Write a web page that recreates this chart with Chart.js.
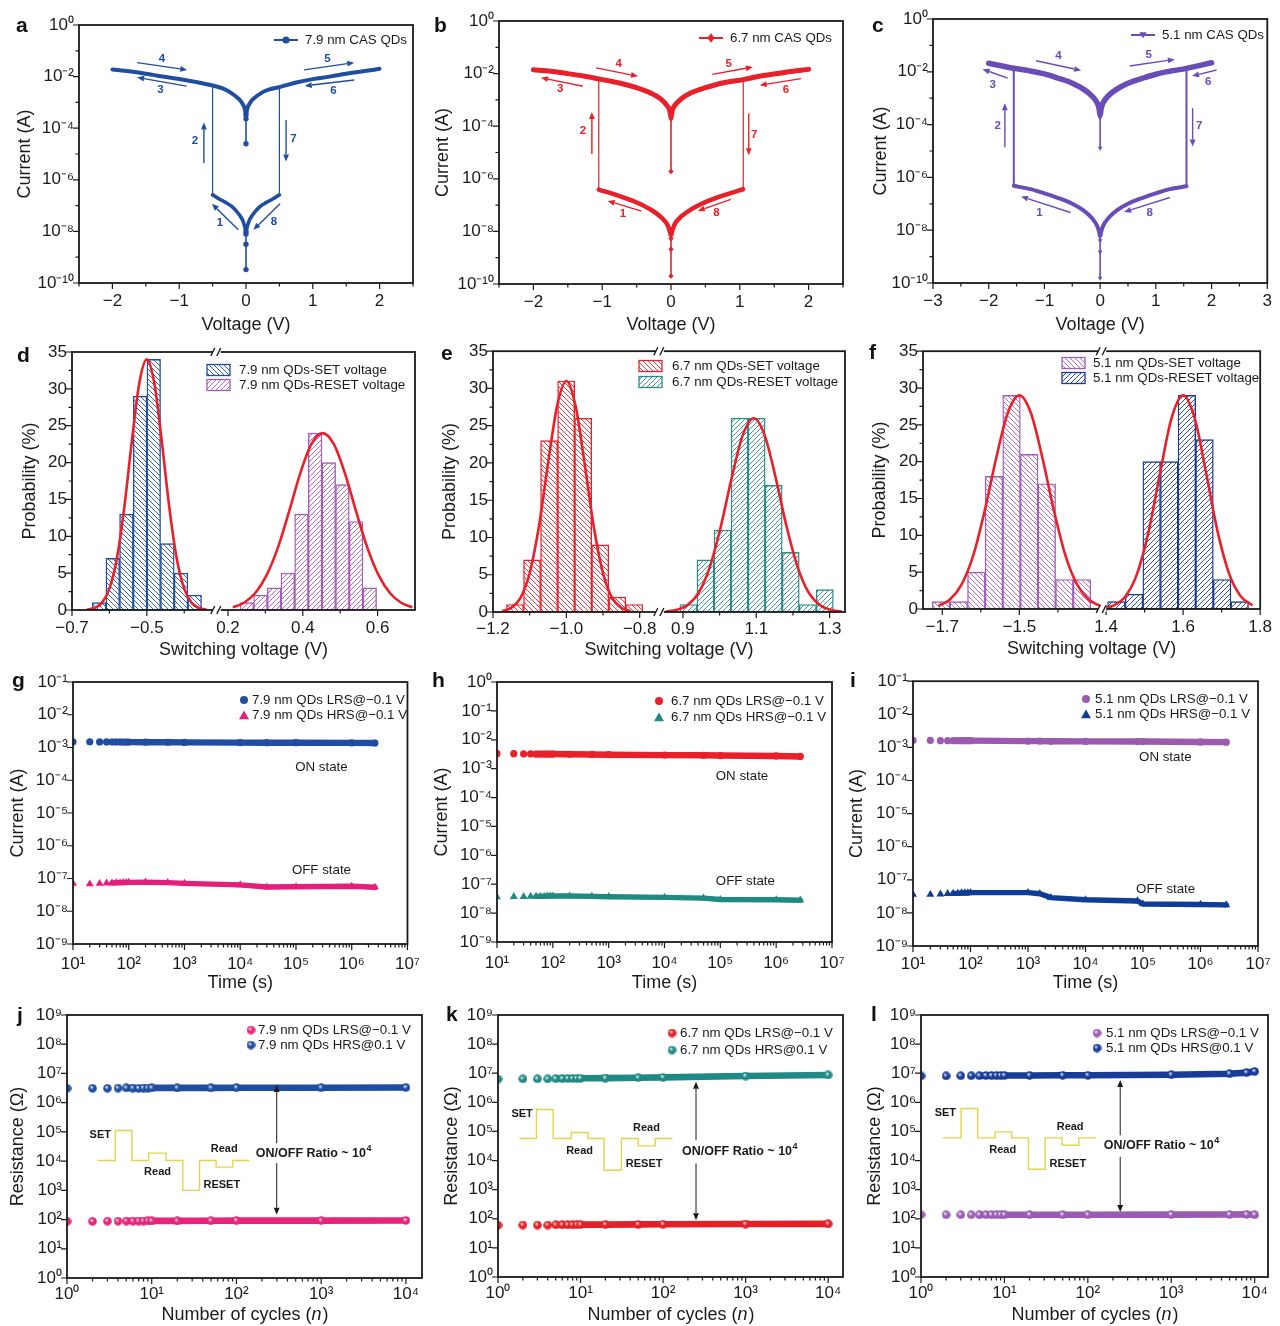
<!DOCTYPE html>
<html>
<head>
<meta charset="utf-8">
<title>CAS QDs resistive switching</title>
<script src="https://cdn.jsdelivr.net/npm/chart.js@4.4.1/dist/chart.umd.min.js"></script>
<style>
  body { margin: 0; width: 1280px; height: 1326px; background: #fff; position: relative; overflow: hidden; }
  canvas { position: absolute; }
  .tag { position: absolute; z-index: 2; font: bold 21px "Liberation Sans", Arial, sans-serif; line-height: 21px; color: #111; }
</style>
</head>
<body>
<div class="tag" style="left:16px;top:14px">a</div>
<div class="tag" style="left:434px;top:14px">b</div>
<div class="tag" style="left:872px;top:14px">c</div>
<div class="tag" style="left:17px;top:344px">d</div>
<div class="tag" style="left:441px;top:342px">e</div>
<div class="tag" style="left:869px;top:341px">f</div>
<div class="tag" style="left:12px;top:669px">g</div>
<div class="tag" style="left:432px;top:669px">h</div>
<div class="tag" style="left:850px;top:669px">i</div>
<div class="tag" style="left:17px;top:1004px">j</div>
<div class="tag" style="left:446px;top:1003px">k</div>
<div class="tag" style="left:871px;top:1003px">l</div>
<script>
// ---------- a-c : I-V sweeps (current in A) ----------
const aLrsV = [-2, -1.75, -1.5, -1.25, -1, -0.75, -0.5, -0.35, -0.25, -0.1, -0.05, -0.02, 0, 0.02, 0.05, 0.1, 0.25, 0.35, 0.5, 0.75, 1, 1.25, 1.5, 1.75, 2];
const aLrsI = [1.9e-2, 1.6e-2, 1.3e-2, 1.0e-2, 8.1e-3, 6.2e-3, 4.5e-3, 3.5e-3, 2.6e-3, 1.3e-3, 8.7e-4, 5.9e-4, 3.3e-4, 5.9e-4, 8.7e-4, 1.3e-3, 2.5e-3, 3.2e-3, 3.9e-3, 5.9e-3, 8.0e-3, 1.0e-2, 1.3e-2, 1.6e-2, 2.0e-2];
const aHrsV = [-0.5, -0.4, -0.3, -0.2, -0.1, -0.05, -0.02, 0, 0.02, 0.05, 0.1, 0.2, 0.3, 0.4, 0.5];
const aHrsI = [2.6e-7, 1.8e-7, 1.3e-7, 8.7e-8, 4.4e-8, 2.7e-8, 1.6e-8, 1.0e-8, 1.6e-8, 2.7e-8, 4.4e-8, 8.7e-8, 1.3e-7, 1.8e-7, 2.6e-7];
const aZeroLrs = [3.3e-4, 2.3e-4, 2.5e-5];
const aZeroHrs = [1.0e-8, 8.0e-9, 3.2e-9, 3.3e-10];
const aJumpV = [-0.5, 0.5];

const bLrsV = [-2, -1.75, -1.5, -1.25, -1.05, -0.75, -0.5, -0.3, -0.15, -0.05, -0.02, 0, 0.02, 0.05, 0.15, 0.3, 0.5, 0.75, 1.05, 1.25, 1.5, 1.75, 2];
const bLrsI = [1.4e-2, 1.23e-2, 1.0e-2, 7.9e-3, 6.3e-3, 4.4e-3, 2.9e-3, 1.85e-3, 1.1e-3, 5.7e-4, 4.1e-4, 2.2e-4, 4.1e-4, 5.9e-4, 1.1e-3, 1.9e-3, 2.9e-3, 4.4e-3, 5.9e-3, 7.6e-3, 9.6e-3, 1.2e-2, 1.45e-2];
const bHrsV = [-1.05, -0.75, -0.5, -0.3, -0.15, -0.05, -0.02, 0, 0.02, 0.05, 0.15, 0.3, 0.5, 0.75, 1.05];
const bHrsI = [3.9e-7, 2.2e-7, 1.26e-7, 6.9e-8, 3.6e-8, 1.74e-8, 1.07e-8, 7.2e-9, 1.07e-8, 1.8e-8, 3.7e-8, 7.1e-8, 1.3e-7, 2.3e-7, 4.0e-7];
const bZeroLrs = [2.2e-4, 1.9e-4, 1.9e-6];
const bZeroHrs = [7.2e-9, 5.4e-9, 2.1e-9, 2.0e-10];
const bJumpV = [-1.05, 1.05];

const cLrsV = [-2, -1.55, -1.25, -1, -0.75, -0.5, -0.3, -0.15, -0.05, -0.02, 0, 0.02, 0.05, 0.15, 0.3, 0.5, 0.75, 1, 1.25, 1.55, 2];
const cLrsI = [2.1e-2, 1.36e-2, 1.07e-2, 8.3e-3, 5.7e-3, 3.7e-3, 2.2e-3, 1.23e-3, 6.5e-4, 4.2e-4, 2.3e-4, 4.2e-4, 6.5e-4, 1.25e-3, 2.2e-3, 3.7e-3, 5.6e-3, 8.1e-3, 1.05e-2, 1.35e-2, 2.2e-2];
const cHrsV = [-1.55, -1.25, -1, -0.75, -0.5, -0.3, -0.15, -0.05, -0.02, 0, 0.02, 0.05, 0.15, 0.3, 0.5, 0.75, 1, 1.25, 1.55];
const cHrsI = [4.8e-7, 3.6e-7, 2.5e-7, 1.65e-7, 1.0e-7, 5.6e-8, 2.9e-8, 1.4e-8, 9e-9, 5.9e-9, 9e-9, 1.4e-8, 2.9e-8, 5.6e-8, 1.0e-7, 1.65e-7, 2.5e-7, 3.6e-7, 4.6e-7];
const cZeroLrs = [2.3e-4, 1.8e-4, 1.3e-5];
const cZeroHrs = [5.9e-9, 4.0e-9, 1.5e-9, 1.55e-10];
const cJumpV = [-1.55, 1.55];

// sweep arrows: [label, V1, log10 I1, V2, log10 I2, labelV, label log10 I]
const aArrows = [['4', -1.63, -1.46, -0.88, -1.74, -1.26, -1.32], ['3', -0.89, -2.37, -1.63, -2.03, -1.28, -2.52],
  ['5', 0.87, -1.74, 1.62, -1.46, 1.22, -1.32], ['6', 1.62, -2.13, 0.88, -2.36, 1.31, -2.54],
  ['2', -0.63, -5.35, -0.63, -3.78, -0.765, -4.48], ['7', 0.6, -3.68, 0.6, -5.29, 0.71, -4.43],
  ['1', -0.115, -7.94, -0.51, -6.93, -0.39, -7.65], ['8', 0.51, -6.93, 0.11, -7.94, 0.42, -7.61]];
const bArrows = [['4', -1.09, -1.78, -0.48, -2.10, -0.76, -1.62], ['3', -1.28, -2.48, -1.89, -2.16, -1.61, -2.57],
  ['5', 0.60, -2.03, 1.19, -1.75, 0.84, -1.62], ['6', 1.89, -2.19, 1.29, -2.44, 1.67, -2.61],
  ['2', -1.15, -5.06, -1.15, -3.46, -1.28, -4.18], ['7', 1.13, -3.52, 1.13, -5.10, 1.21, -4.34],
  ['1', -0.43, -7.23, -0.92, -6.84, -0.70, -7.35], ['8', 0.87, -6.78, 0.39, -7.22, 0.66, -7.29]];
const cArrows = [['4', -1.15, -1.58, -0.34, -1.95, -0.75, -1.40], ['3', -1.66, -2.24, -2.11, -1.90, -1.93, -2.50],
  ['5', 0.53, -1.78, 1.34, -1.53, 0.87, -1.34], ['6', 2.09, -1.93, 1.65, -2.16, 1.94, -2.37],
  ['2', -1.71, -4.86, -1.71, -3.19, -1.84, -4.04], ['7', 1.66, -3.38, 1.66, -4.83, 1.78, -4.04],
  ['1', -0.53, -7.33, -1.42, -6.72, -1.09, -7.35], ['8', 1.25, -6.76, 0.43, -7.31, 0.89, -7.35]];

// ---------- d-f : switching voltage histograms (probability in %) ----------
const dSetX = [-0.6275, -0.591, -0.5545, -0.518, -0.4815, -0.445, -0.4085, -0.372];
const dSetP = [1, 7, 13, 29, 34, 9, 5, 2];
const dResetX = [0.2505, 0.287, 0.3235, 0.36, 0.3965, 0.433, 0.4695, 0.506, 0.5425, 0.579];
const dResetP = [1, 2, 3, 5, 13, 24, 20, 17, 12, 3];
const dSetFitX = [-0.66, -0.64, -0.62, -0.60, -0.58, -0.56, -0.54, -0.52, -0.50, -0.48, -0.46, -0.44, -0.42, -0.40, -0.38, -0.36, -0.34];
const dSetFitY = [0.06, 0.27, 0.97, 2.9, 7.0, 14.0, 22.9, 30.8, 34, 30.8, 22.9, 14.0, 7.0, 2.9, 0.97, 0.27, 0.06];
const dResetFitX = [0.213, 0.243, 0.273, 0.303, 0.333, 0.363, 0.393, 0.423, 0.453, 0.483, 0.513, 0.543, 0.573, 0.603, 0.633, 0.663, 0.693];
const dResetFitY = [0.37, 0.98, 2.3, 4.7, 8.4, 13.3, 18.5, 22.5, 24, 22.5, 18.5, 13.3, 8.4, 4.7, 2.3, 0.98, 0.37];

const eSetX = [-1.14, -1.0935, -1.047, -1.0005, -0.954, -0.9075, -0.861, -0.8145];
const eSetP = [1, 7, 23, 31, 26, 9, 2, 1];
const eResetX = [0.915, 0.9615, 1.008, 1.0545, 1.101, 1.1475, 1.194, 1.2405, 1.287];
const eResetP = [1, 7, 11, 26, 26, 17, 8, 1, 3];
const eSetFitX = [-1.175, -1.15, -1.125, -1.1, -1.075, -1.05, -1.025, -1.0, -0.975, -0.95, -0.925, -0.9, -0.875, -0.85, -0.825];
const eSetFitY = [0.13, 0.57, 1.9, 5.2, 11.4, 19.9, 27.7, 31, 27.7, 19.9, 11.4, 5.2, 1.9, 0.57, 0.13];
const eResetFitX = [0.853, 0.883, 0.913, 0.943, 0.973, 1.003, 1.033, 1.063, 1.093, 1.123, 1.153, 1.183, 1.213, 1.243, 1.273, 1.303, 1.333];
const eResetFitY = [0.07, 0.29, 0.95, 2.6, 6.0, 11.4, 18.0, 23.7, 26, 23.7, 18.0, 11.4, 6.0, 2.6, 0.95, 0.29, 0.07];

const fSetX = [-1.703, -1.6573, -1.6116, -1.5659, -1.5202, -1.4745, -1.4288, -1.3831, -1.3374];
const fSetP = [1, 1, 5, 18, 29, 21, 17, 4, 4];
const fResetX = [1.427, 1.4727, 1.5184, 1.5641, 1.6098, 1.6555, 1.7012, 1.7469];
const fResetP = [1, 2, 20, 20, 29, 23, 4, 1];
const fSetFitX = [-1.71, -1.68, -1.65, -1.62, -1.59, -1.56, -1.53, -1.50, -1.47, -1.44, -1.41, -1.38, -1.35, -1.32, -1.29];
const fSetFitY = [0.41, 1.28, 3.3, 7.2, 13.3, 20.5, 26.6, 29, 26.6, 20.5, 13.3, 7.2, 3.3, 1.28, 0.41];
const fResetFitX = [1.39, 1.42, 1.45, 1.48, 1.51, 1.54, 1.57, 1.60, 1.63, 1.66, 1.69, 1.72, 1.75, 1.78];
const fResetFitY = [0.11, 0.49, 1.7, 4.7, 10.4, 18.4, 25.9, 29, 25.9, 18.4, 10.4, 4.7, 1.7, 0.49];

// ---------- g-i : retention (current in A vs time in s) ----------
const gT = [10, 20, 30, 40, 50, 60, 70, 80, 90, 100, 200, 500, 1e3, 1e4, 3e4, 1e5, 1e6, 2.6e6];
const gLrs = [1.5e-3, 1.5e-3, 1.48e-3, 1.48e-3, 1.47e-3, 1.47e-3, 1.47e-3, 1.46e-3, 1.46e-3, 1.46e-3, 1.45e-3, 1.44e-3, 1.43e-3, 1.41e-3, 1.4e-3, 1.4e-3, 1.38e-3, 1.37e-3];
const gHrs = [7.1e-8, 6.8e-8, 7.0e-8, 7.2e-8, 7.3e-8, 7.4e-8, 7.4e-8, 7.5e-8, 7.5e-8, 7.6e-8, 7.7e-8, 7.5e-8, 7.1e-8, 6.4e-8, 5.5e-8, 5.6e-8, 5.8e-8, 5.4e-8];
const hT = [10, 20, 30, 40, 50, 60, 70, 80, 90, 100, 200, 500, 1e3, 1e4, 5e4, 1e5, 1e6, 2.7e6];
const hLrs = [3.3e-3, 3.3e-3, 3.25e-3, 3.25e-3, 3.2e-3, 3.2e-3, 3.2e-3, 3.2e-3, 3.2e-3, 3.2e-3, 3.15e-3, 3.1e-3, 3.05e-3, 2.95e-3, 2.9e-3, 2.85e-3, 2.75e-3, 2.65e-3];
const hHrs = [3.6e-8, 3.7e-8, 3.7e-8, 3.8e-8, 3.8e-8, 3.8e-8, 3.8e-8, 3.9e-8, 3.9e-8, 3.9e-8, 3.9e-8, 3.8e-8, 3.7e-8, 3.5e-8, 3.3e-8, 2.95e-8, 2.9e-8, 2.8e-8];
const iT = [10, 20, 30, 40, 50, 60, 70, 80, 90, 100, 1e3, 1.6e3, 2.5e3, 1e4, 8e4, 1e5, 1e6, 2.8e6];
const iLrs = [1.62e-3, 1.62e-3, 1.6e-3, 1.6e-3, 1.6e-3, 1.6e-3, 1.6e-3, 1.6e-3, 1.6e-3, 1.6e-3, 1.55e-3, 1.55e-3, 1.53e-3, 1.52e-3, 1.5e-3, 1.5e-3, 1.46e-3, 1.44e-3];
const iHrs = [3.6e-8, 3.6e-8, 3.7e-8, 3.8e-8, 3.9e-8, 3.9e-8, 4.0e-8, 4.0e-8, 4.0e-8, 4.1e-8, 4.1e-8, 3.8e-8, 2.9e-8, 2.5e-8, 2.3e-8, 1.85e-8, 1.8e-8, 1.75e-8];

// ---------- j-l : endurance (resistance in ohm vs cycle number) ----------
const jN = [1, 2, 3, 4, 5, 6, 7, 8, 9, 10, 20, 50, 100, 1000, 10000];
const jLrs = [87, 87, 88, 88, 89, 89, 89, 89, 90, 90, 90, 91, 92, 92, 93];
const jHrs = [3.1e6, 3.1e6, 3.1e6, 3.15e6, 3.2e6, 3.15e6, 3.1e6, 3.15e6, 3.15e6, 3.2e6, 3.2e6, 3.2e6, 3.25e6, 3.25e6, 3.3e6];
const kN = [1, 2, 3, 4, 5, 6, 7, 8, 9, 10, 20, 50, 100, 1000, 10000];
const kLrs = [60, 61, 61, 61, 62, 62, 62, 62, 63, 63, 63, 64, 65, 66, 67];
const kHrs = [6.3e6, 6.4e6, 6.4e6, 6.4e6, 6.5e6, 6.5e6, 6.6e6, 6.6e6, 6.6e6, 6.7e6, 6.8e6, 7.0e6, 7.2e6, 8.0e6, 8.7e6];
const lN = [1, 2, 3, 4, 5, 6, 7, 8, 9, 10, 20, 50, 100, 1000, 5000, 8000, 10000];
const lLrs = [138, 138, 138, 138, 138, 138, 138, 138, 138, 138, 138, 138, 138, 139, 140, 142, 138];
const lHrs = [8.1e6, 8.1e6, 8.2e6, 8.2e6, 8.2e6, 8.3e6, 8.3e6, 8.3e6, 8.3e6, 8.4e6, 8.4e6, 8.5e6, 8.5e6, 8.9e6, 9.6e6, 1.05e7, 1.15e7];
// pulse sketch inset, in log10 units of the axes: start of each level and its level
const jWaveX = [0.361, 0.570, 0.766, 0.963, 1.167, 1.367, 1.564, 1.760, 1.957, 2.153];
const jWaveY = [4.023, 5.048, 4.023, 4.273, 4.023, 2.998, 4.023, 3.795, 4.023, 4.023];
const kWaveX = [0.259, 0.466, 0.669, 0.888, 1.090, 1.285, 1.495, 1.698, 1.905, 2.116];
const kWaveY = [4.757, 5.755, 4.757, 4.963, 4.757, 3.667, 4.757, 4.505, 4.757, 4.757];
const lWaveX = [0.26, 0.48, 0.68, 0.888, 1.088, 1.288, 1.488, 1.692, 1.892, 2.1];
const lWaveY = [4.780, 5.789, 4.780, 4.986, 4.780, 3.702, 4.780, 4.528, 4.780, 4.780];
const jWaveLabels = [['SET', 0.393, 4.9], ['Read', 1.069, 3.624], ['RESET', 1.827, 3.191], ['Read', 1.855, 4.421]];
const kWaveLabels = [['SET', 0.292, 5.617], ['Read', 0.989, 4.333], ['RESET', 1.771, 3.897], ['Read', 1.799, 5.124]];
const lWaveLabels = [['SET', 0.292, 5.64], ['Read', 0.98, 4.356], ['RESET', 1.76, 3.897], ['Read', 1.788, 5.158]];

// ---------- tick values ----------
const ivYTicks = [1, 1e-2, 1e-4, 1e-6, 1e-8, 1e-10];
const ivYMinor = [1e-1, 1e-3, 1e-5, 1e-7, 1e-9];
const abXTicks = [-2, -1, 0, 1, 2];
const cXTicks = [-3, -2, -1, 0, 1, 2, 3];
const ivXMinor = [-2.5, -1.5, -0.5, 0.5, 1.5, 2.5];
const histYTicks = [0, 5, 10, 15, 20, 25, 30, 35];
const histYMinor = [2.5, 7.5, 12.5, 17.5, 22.5, 27.5, 32.5];
const dXTicks = [-0.7, -0.5, 0.2, 0.4, 0.6];
const dXMinor = [-0.6, -0.4, 0.3, 0.5];
const eXTicks = [-1.2, -1.0, -0.8, 0.9, 1.1, 1.3];
const eXMinor = [-1.1, -0.9, 1.0, 1.2];
const fXTicks = [-1.7, -1.5, 1.4, 1.6, 1.8];
const fXMinor = [-1.6, -1.4, 1.5, 1.7];
const retXTicks = [1e1, 1e2, 1e3, 1e4, 1e5, 1e6, 1e7];
const retYTicks = [1e-1, 1e-2, 1e-3, 1e-4, 1e-5, 1e-6, 1e-7, 1e-8, 1e-9];
const retYTicksH = [1, 1e-1, 1e-2, 1e-3, 1e-4, 1e-5, 1e-6, 1e-7, 1e-8, 1e-9];
const cycXTicks = [1, 10, 100, 1000, 10000];
const cycYTicks = [1, 10, 100, 1e3, 1e4, 1e5, 1e6, 1e7, 1e8, 1e9];

// ---------- helpers ----------
const FONT = '"Liberation Sans", Arial, Helvetica, sans-serif';
const INK = '#1a1a1a';
const FIT = '#e8202a';
const WAVE = '#e3d44c';
Chart.defaults.font.family = FONT;
Chart.defaults.font.size = 17;
Chart.defaults.color = INK;

const SUP = { '0': '\u2070', '1': '\u00b9', '2': '\u00b2', '3': '\u00b3', '4': '\u2074', '5': '\u2075', '6': '\u2076', '7': '\u2077', '8': '\u2078', '9': '\u2079', '-': '\u207b' };
const pow10 = v => '10' + String(Math.round(Math.log10(v))).split('').map(ch => SUP[ch]).join('');
const signed = (v, d) => (v < -1e-9 ? '\u2212' : '') + Math.abs(v).toFixed(d);
const minorLog = (e0, e1) => { const m = []; for (let e = e0; e < e1; e++) for (let k = 2; k <= 9; k++) m.push(k * Math.pow(10, e)); return m; };
const pts = (xs, ys) => xs.map((x, i) => ({ x, y: ys[i] }));

function label(ctx, s, x, y, font, color, align) {
  ctx.font = font; ctx.fillStyle = color; ctx.textAlign = align; ctx.textBaseline = 'middle';
  ctx.fillText(s, x, y);
}

function arrow(ctx, x1, y1, x2, y2, w, head) {
  const ang = Math.atan2(y2 - y1, x2 - x1), c = Math.cos(ang), s = Math.sin(ang);
  const bx = x2 - head * c, by = y2 - head * s;
  ctx.lineWidth = w;
  ctx.beginPath(); ctx.moveTo(x1, y1); ctx.lineTo(bx, by); ctx.stroke();
  ctx.beginPath(); ctx.moveTo(x2, y2);
  ctx.lineTo(bx - head * 0.42 * s, by + head * 0.42 * c);
  ctx.lineTo(bx + head * 0.42 * s, by - head * 0.42 * c);
  ctx.closePath(); ctx.fill();
}

function mark(ctx, style, x, y, r, color) {
  ctx.fillStyle = color; ctx.beginPath();
  if (style === 'circle') ctx.arc(x, y, r, 0, Math.PI * 2);
  else if (style === 'diamond') { ctx.moveTo(x, y - r * 1.3); ctx.lineTo(x + r, y); ctx.lineTo(x, y + r * 1.3); ctx.lineTo(x - r, y); }
  else if (style === 'tri') { ctx.moveTo(x, y - r); ctx.lineTo(x + r, y + r * 0.75); ctx.lineTo(x - r, y + r * 0.75); }
  else { ctx.moveTo(x, y + r); ctx.lineTo(x + r, y - r * 0.75); ctx.lineTo(x - r, y - r * 0.75); }
  ctx.closePath(); ctx.fill();
}

function hatch(color, dir) {
  const s = 5, c = document.createElement('canvas');
  c.width = c.height = s;
  const g = c.getContext('2d');
  g.fillStyle = '#fff'; g.fillRect(0, 0, s, s);
  g.strokeStyle = color; g.lineWidth = 0.9;
  g.beginPath();
  if (dir === '/') {
    g.moveTo(-1, s + 1); g.lineTo(s + 1, -1); g.moveTo(-1, 1); g.lineTo(1, -1); g.moveTo(s - 1, s + 1); g.lineTo(s + 1, s - 1);
  } else {
    g.moveTo(-1, -1); g.lineTo(s + 1, s + 1); g.moveTo(-1, s - 1); g.lineTo(1, s + 1); g.moveTo(s - 1, -1); g.lineTo(s + 1, 1);
  }
  g.stroke();
  return g.createPattern(c, 'repeat');
}

function sphere(color, d) {
  const c = document.createElement('canvas');
  c.width = c.height = d;
  const g = c.getContext('2d'), r = d / 2;
  const gr = g.createRadialGradient(r * 0.72, r * 0.68, 0, r, r, r);
  gr.addColorStop(0, '#ffffff'); gr.addColorStop(0.5, color); gr.addColorStop(1, color);
  g.fillStyle = gr; g.beginPath(); g.arc(r, r, r - 0.2, 0, Math.PI * 2); g.fill();
  return c;
}

function deco(ch, p, xAx, yAx, extra) {
  const ctx = ch.ctx, A = ch.chartArea, X = ch.scales.x, Y = ch.scales.y;
  ctx.save();
  ctx.strokeStyle = INK; ctx.lineWidth = 1.2;
  ctx.beginPath();
  const tx = (vals, len) => vals.forEach(v => { const x = X.getPixelForValue(v); ctx.moveTo(x, A.bottom); ctx.lineTo(x, A.bottom + len); });
  const ty = (vals, len) => vals.forEach(v => { const y = Y.getPixelForValue(v); ctx.moveTo(A.left, y); ctx.lineTo(A.left - len, y); });
  tx(xAx.ticks, 6); tx(xAx.minor || [], 3.5); ty(yAx.ticks, 6); ty(yAx.minor || [], 3.5);
  ctx.stroke();
  ctx.lineWidth = 1.8;
  ctx.strokeRect(A.left, A.top, A.right - A.left, A.bottom - A.top);
  if (extra) extra(ctx, A, X, Y, p.box[0], p.box[1]);
  ctx.restore();
}

function mount(p, type, datasets, xAx, yAx, extra) {
  const [bx, by, bw, bh] = p.box, [L, T, R, B] = p.plot;
  const cv = document.createElement('canvas');
  cv.width = bw; cv.height = bh;
  cv.style.left = bx + 'px'; cv.style.top = by + 'px';
  document.body.appendChild(cv);
  const scale = (ax, isX) => Object.assign({
    grid: { display: false, drawTicks: false },
    border: { display: false },
    ticks: { color: INK, font: { size: 17 }, padding: isX ? p.xPad : 5, maxRotation: 0, autoSkip: false, callback: ax.label },
    title: isX
      ? { display: !!p.xTitle, text: p.xTitle, color: INK, font: { size: 18 }, padding: { top: 0, bottom: by + bh - p.xTitleY - 10.8 } }
      : { display: true, text: p.yTitle, color: INK, font: { size: 18 }, padding: { top: p.yTitleX - bx - 10.8, bottom: 0 } },
    afterBuildTicks: s => { s.ticks = ax.ticks.map(v => ({ value: v })); },
    afterFit: s => { if (isX) s.height = by + bh - B; else s.width = L - bx; }
  }, ax.opt);
  return new Chart(cv, {
    type,
    data: { datasets },
    options: {
      responsive: false, animation: false, events: [],
      layout: { autoPadding: false, padding: { left: 0, bottom: 0, top: T - by, right: bx + bw - R } },
      plugins: { legend: { display: false }, tooltip: { enabled: false } },
      scales: { x: scale(xAx, true), y: scale(yAx, false) }
    },
    plugins: [{ id: 'deco', afterDatasetsDraw: ch => deco(ch, p, xAx, yAx, extra) }]
  });
}

// ---------- a-c ----------
function ivPanel(p, d) {
  const at = v => d.lrsI[d.lrsV.indexOf(v)];
  const base = { showLine: true, borderColor: d.color, pointBackgroundColor: d.color, pointBorderWidth: 0,
    pointStyle: d.style, pointRotation: d.rot || 0, borderCapStyle: 'round', borderJoinStyle: 'round' };
  const ds = [
    { ...base, data: pts(d.lrsV, d.lrsI), borderWidth: d.wL, pointRadius: 0, cubicInterpolationMode: 'monotone' },
    { ...base, data: pts(d.hrsV, d.hrsI), borderWidth: d.wH, pointRadius: 0, cubicInterpolationMode: 'monotone' },
    { ...base, data: [{ x: d.jumpV[0], y: d.hrsI[0] }, { x: d.jumpV[0], y: at(d.jumpV[0]) }], borderWidth: d.wJ, pointRadius: 0 },
    { ...base, data: [{ x: d.jumpV[1], y: at(d.jumpV[1]) }, { x: d.jumpV[1], y: d.hrsI[d.hrsI.length - 1] }], borderWidth: d.wJ, pointRadius: 0 },
    { ...base, data: d.zeroL.map(y => ({ x: 0, y })), borderWidth: 1.6, pointRadius: 2.7 },
    { ...base, data: d.zeroH.map(y => ({ x: 0, y })), borderWidth: 1.6, pointRadius: 2.7 }
  ];
  const xAx = { opt: { type: 'linear', min: d.xMin, max: d.xMax }, ticks: d.xTicks, minor: ivXMinor, label: v => signed(v, 0) };
  const yAx = { opt: { type: 'logarithmic', min: 1e-10, max: 1 }, ticks: ivYTicks, minor: ivYMinor, label: pow10 };
  mount(p, 'scatter', ds, xAx, yAx, (ctx, A, X, Y, ox, oy) => {
    d.arrows.forEach(([lab, x1, e1, x2, e2, lx, le]) => {
      ctx.fillStyle = d.color; ctx.strokeStyle = d.color;
      arrow(ctx, X.getPixelForValue(x1), Y.getPixelForValue(10 ** e1), X.getPixelForValue(x2), Y.getPixelForValue(10 ** e2), 1.4, 7);
      label(ctx, lab, X.getPixelForValue(lx), Y.getPixelForValue(10 ** le), 'bold 11.5px ' + FONT, d.color, 'center');
    });
    const x = d.leg[0] - ox, y = d.leg[1] - oy;
    ctx.strokeStyle = d.color; ctx.lineWidth = 2;
    ctx.beginPath(); ctx.moveTo(x - 31, y); ctx.lineTo(x - 7, y); ctx.stroke();
    mark(ctx, d.legMark, x - 19, y, 3.6, d.color);
    label(ctx, d.name, x, y, '13.3px ' + FONT, INK, 'left');
  });
}

// ---------- d-f ----------
function histPanel(p, d) {
  const sh = d.brk[1] - d.brk[0];
  const toV = v => (v <= d.brk[0] + 1e-9 ? v : v - sh);
  const fromV = v => (v <= d.brk[0] + 1e-9 ? v : v + sh);
  const bars = (xs, ys, color, dir) => ({ type: 'bar', data: xs.map((x, i) => ({ x: toV(x), y: ys[i] })),
    backgroundColor: hatch(color, dir), borderColor: color, borderWidth: 1.4, borderSkipped: false,
    grouped: false, barPercentage: 1, categoryPercentage: 1 });
  const fit = (xs, ys) => ({ type: 'line', data: xs.map((x, i) => ({ x: toV(x), y: ys[i] })),
    borderColor: FIT, borderWidth: 2.6, pointRadius: 0, cubicInterpolationMode: 'monotone', fill: false });
  const ds = [fit(d.setFitX, d.setFitY), fit(d.resetFitX, d.resetFitY),
    bars(d.setX, d.setP, d.setColor, '\\'), bars(d.resetX, d.resetP, d.resetColor, '/')];
  const xAx = { opt: { type: 'linear', min: d.xMin, max: toV(d.xMax), offset: false }, ticks: d.xTicks.map(toV), minor: d.xMinor.map(toV), label: v => signed(fromV(v), 1) };
  const yAx = { opt: { type: 'linear', min: 0, max: 35 }, ticks: histYTicks, minor: histYMinor, label: v => String(v) };
  const pats = [hatch(d.setColor, '\\'), hatch(d.resetColor, '/')];
  mount(p, 'bar', ds, xAx, yAx, (ctx, A, X, Y, ox, oy) => {
    const bxp = X.getPixelForValue(d.brk[0]);
    [A.top, A.bottom].forEach(y => {
      ctx.fillStyle = '#fff'; ctx.fillRect(bxp - 4, y - 3, 8, 6);
      ctx.strokeStyle = INK; ctx.lineWidth = 1.4;
      ctx.beginPath(); ctx.moveTo(bxp - 6, y + 4); ctx.lineTo(bxp - 2, y - 4); ctx.moveTo(bxp, y + 4); ctx.lineTo(bxp + 4, y - 4); ctx.stroke();
    });
    const [tx, bx0, y1, y2] = d.leg;
    [[y1, d.setColor, d.names[0], pats[0]], [y2, d.resetColor, d.names[1], pats[1]]].forEach(([yy, col, nm, pat]) => {
      const y = yy - oy;
      ctx.fillStyle = pat; ctx.fillRect(bx0 - ox, y - 5.5, 23, 11);
      ctx.strokeStyle = col; ctx.lineWidth = 1.3; ctx.strokeRect(bx0 - ox, y - 5.5, 23, 11);
      label(ctx, nm, tx - ox, y, '13.3px ' + FONT, INK, 'left');
    });
  });
}

// ---------- g-i ----------
function retPanel(p, d) {
  const lrs = pts(d.t, d.lrs), hrs = pts(d.t, d.hrs);
  const ds = [
    { data: lrs, pointStyle: 'circle', pointRadius: 3.6, pointBackgroundColor: d.c1, pointBorderWidth: 0 },
    { data: hrs, pointStyle: 'triangle', pointRadius: 4.6, pointBackgroundColor: d.c2, pointBorderWidth: 0 },
    { data: lrs.filter(q => q.x >= 50), showLine: true, borderColor: d.c1, borderWidth: 6.4, pointRadius: 0, borderCapStyle: 'round' },
    { data: hrs.filter(q => q.x >= 50), showLine: true, borderColor: d.c2, borderWidth: 5.4, pointRadius: 0, borderCapStyle: 'round' }
  ];
  const xAx = { opt: { type: 'logarithmic', min: 10, max: 1e7 }, ticks: retXTicks, minor: minorLog(1, 7), label: pow10 };
  const yAx = { opt: { type: 'logarithmic', min: 1e-9, max: d.yMax }, ticks: d.yTicks, label: pow10 };
  mount(p, 'scatter', ds, xAx, yAx, (ctx, A, X, Y, ox, oy) => {
    d.notes.forEach(([s, ex, ey]) => label(ctx, s, X.getPixelForValue(10 ** ex), Y.getPixelForValue(10 ** ey), '13.3px ' + FONT, INK, 'center'));
    const [tx, mx, y1, y2] = d.leg;
    mark(ctx, 'circle', mx - ox, y1 - oy, 4, d.c1);
    mark(ctx, 'tri', mx - ox, y2 - oy + 0.5, 5, d.c2);
    label(ctx, d.names[0], tx - ox, y1 - oy, '13.3px ' + FONT, INK, 'left');
    label(ctx, d.names[1], tx - ox, y2 - oy, '13.3px ' + FONT, INK, 'left');
  });
}

// ---------- j-l ----------
function cycPanel(p, d) {
  const lrs = pts(d.n, d.lrs), hrs = pts(d.n, d.hrs);
  const s1 = sphere(d.c1, 9), s2 = sphere(d.c2, 9);
  const ds = [
    { data: lrs, pointStyle: s1, pointRadius: 4 },
    { data: hrs, pointStyle: s2, pointRadius: 4 },
    { data: lrs.filter(q => q.x >= 5), showLine: true, borderColor: d.c1, borderWidth: 6.6, pointRadius: 0, borderCapStyle: 'round' },
    { data: hrs.filter(q => q.x >= 5), showLine: true, borderColor: d.c2, borderWidth: 6.6, pointRadius: 0, borderCapStyle: 'round' },
    { data: d.waveX.map((e, i) => ({ x: 10 ** e, y: 10 ** d.waveY[i] })), showLine: true, stepped: true, borderColor: WAVE, borderWidth: 1.4, pointRadius: 0 }
  ];
  const xAx = { opt: { type: 'logarithmic', min: 1, max: d.xMax }, ticks: cycXTicks, minor: minorLog(0, 4), label: pow10 };
  const yAx = { opt: { type: 'logarithmic', min: 1, max: 1e9 }, ticks: cycYTicks, label: pow10 };
  mount(p, 'scatter', ds, xAx, yAx, (ctx, A, X, Y, ox, oy) => {
    const px = (ex, ey) => [X.getPixelForValue(10 ** ex), Y.getPixelForValue(10 ** ey)];
    d.waveLabels.forEach(([s, ex, ey]) => { const [x, y] = px(ex, ey); label(ctx, s, x, y, 'bold 11px ' + FONT, INK, 'center'); });
    const [rx, ry] = px(d.ratio[0], d.ratio[1]);
    const f1 = 'bold 12.5px ' + FONT, f2 = 'bold 9px ' + FONT, t1 = 'ON/OFF Ratio ~ 10', t2 = '4';
    ctx.font = f1; const w1 = ctx.measureText(t1).width;
    ctx.font = f2; const w2 = ctx.measureText(t2).width;
    const x0 = rx - (w1 + w2) / 2;
    label(ctx, t1, x0, ry, f1, INK, 'left');
    label(ctx, t2, x0 + w1 + 0.5, ry - 5, f2, INK, 'left');
    const [ax, yTop] = px(d.span[0], d.span[1]);
    const yG1 = px(0, d.span[2])[1], yG2 = px(0, d.span[3])[1], yBot = px(0, d.span[4])[1];
    ctx.fillStyle = INK; ctx.strokeStyle = INK;
    arrow(ctx, ax, yG1, ax, yTop, 1, 7);
    arrow(ctx, ax, yG2, ax, yBot, 1, 7);
    const [tx, mx, y1, y2] = d.leg;
    ctx.drawImage(s1, mx - ox - 4.5, y1 - oy - 4.5);
    ctx.drawImage(s2, mx - ox - 4.5, y2 - oy - 4.5);
    label(ctx, d.names[0], tx - ox, y1 - oy, '13.3px ' + FONT, INK, 'left');
    label(ctx, d.names[1], tx - ox, y2 - oy, '13.3px ' + FONT, INK, 'left');
    // axis title with italic n
    const cx = (A.left + A.right) / 2, cy = p.xTitleY - oy;
    const a1 = 'Number of cycles (', a2 = 'n', a3 = ')';
    ctx.font = '18px ' + FONT; const m1 = ctx.measureText(a1).width, m3 = ctx.measureText(a3).width;
    ctx.font = 'italic 18px ' + FONT; const m2 = ctx.measureText(a2).width;
    let xx = cx - (m1 + m2 + m3) / 2;
    label(ctx, a1, xx, cy, '18px ' + FONT, INK, 'left'); xx += m1;
    label(ctx, a2, xx, cy, 'italic 18px ' + FONT, INK, 'left'); xx += m2 + 1;
    label(ctx, a3, xx, cy, '18px ' + FONT, INK, 'left');
  });
}

// ---------- build panels ----------
const ivX = 'Voltage (V)', ivY = 'Current (A)';
ivPanel({ box: [0, 0, 430, 340], plot: [79, 25, 413, 283], yTitleX: 25, xTitleY: 325, xPad: 8, xTitle: ivX, yTitle: ivY },
  { lrsV: aLrsV, lrsI: aLrsI, hrsV: aHrsV, hrsI: aHrsI, zeroL: aZeroLrs, zeroH: aZeroHrs, jumpV: aJumpV, arrows: aArrows,
    color: '#1f4ea0', style: 'circle', legMark: 'circle', wL: 4, wH: 3.6, wJ: 1.2, xMin: -2.5, xMax: 2.5, xTicks: abXTicks,
    leg: [305, 40], name: '7.9 nm CAS QDs' });
ivPanel({ box: [428, 0, 432, 340], plot: [499, 21, 843, 284], yTitleX: 443, xTitleY: 325, xPad: 8, xTitle: ivX, yTitle: ivY },
  { lrsV: bLrsV, lrsI: bLrsI, hrsV: bHrsV, hrsI: bHrsI, zeroL: bZeroLrs, zeroH: bZeroHrs, jumpV: bJumpV, arrows: bArrows,
    color: '#e8202a', style: 'rectRot', legMark: 'diamond', wL: 5, wH: 4.5, wJ: 1.2, xMin: -2.5, xMax: 2.5, xTicks: abXTicks,
    leg: [730, 38], name: '6.7 nm CAS QDs' });
ivPanel({ box: [848, 0, 432, 340], plot: [933, 19, 1273, 283], yTitleX: 881, xTitleY: 325, xPad: 8, xTitle: ivX, yTitle: ivY },
  { lrsV: cLrsV, lrsI: cLrsI, hrsV: cHrsV, hrsI: cHrsI, zeroL: cZeroLrs, zeroH: cZeroHrs, jumpV: cJumpV, arrows: cArrows,
    color: '#6a4cb6', style: 'triangle', rot: 180, legMark: 'triDown', wL: 5.5, wH: 4, wJ: 2, xMin: -3, xMax: 3, xTicks: cXTicks,
    leg: [1162, 35], name: '5.1 nm CAS QDs' });

const hX = 'Switching voltage (V)', hY = 'Probability (%)';
histPanel({ box: [0, 336, 430, 334], plot: [72, 352, 415, 610], yTitleX: 30, xTitleY: 650, xPad: 8, xTitle: hX, yTitle: hY },
  { setX: dSetX, setP: dSetP, resetX: dResetX, resetP: dResetP, setFitX: dSetFitX, setFitY: dSetFitY, resetFitX: dResetFitX, resetFitY: dResetFitY,
    setColor: '#1f4ea0', resetColor: '#a65bb5', brk: [-0.313, 0.17], xMin: -0.7, xMax: 0.7, xTicks: dXTicks, xMinor: dXMinor,
    leg: [239, 207, 370, 385], names: ['7.9 nm QDs-SET voltage', '7.9 nm QDs-RESET voltage'] });
histPanel({ box: [428, 336, 432, 334], plot: [493, 351, 845, 612], yTitleX: 450, xTitleY: 650, xPad: 7, xTitle: hX, yTitle: hY },
  { setX: eSetX, setP: eSetP, resetX: eResetX, resetP: eResetP, setFitX: eSetFitX, setFitY: eSetFitY, resetFitX: eResetFitX, resetFitY: eResetFitY,
    setColor: '#e8202a', resetColor: '#2b8a88', brk: [-0.745, 0.837], xMin: -1.2, xMax: 1.342, xTicks: eXTicks, xMinor: eXMinor,
    leg: [672, 639, 366, 382], names: ['6.7 nm QDs-SET voltage', '6.7 nm QDs-RESET voltage'] });
histPanel({ box: [848, 336, 432, 334], plot: [923, 349, 1268, 609], yTitleX: 880, xTitleY: 649, xPad: 8, xTitle: hX, yTitle: hY },
  { setX: fSetX, setP: fSetP, resetX: fResetX, resetP: fResetP, setFitX: fSetFitX, setFitY: fSetFitY, resetFitX: fResetFitX, resetFitY: fResetFitY,
    setColor: '#a15db9', resetColor: '#1c3b8c', brk: [-1.285, 1.39], xMin: -1.75, xMax: 1.8, xTicks: fXTicks, xMinor: fXMinor,
    leg: [1093, 1062, 363, 378], names: ['5.1 nm QDs-SET voltage', '5.1 nm QDs-RESET voltage'] });

const rX = 'Time (s)';
retPanel({ box: [0, 666, 430, 334], plot: [73, 682, 415, 944], yTitleX: 18, xTitleY: 983, xPad: 10, xTitle: rX, yTitle: ivY },
  { t: gT, lrs: gLrs, hrs: gHrs, c1: '#1f4ea0', c2: '#e31f7b', yMax: 1e-1, yTicks: retYTicks,
    notes: [['ON state', 5.457, -3.61], ['OFF state', 5.457, -6.74]],
    leg: [252, 244, 700, 715], names: ['7.9 nm QDs LRS@\u22120.1 V', '7.9 nm QDs HRS@\u22120.1 V'] });
retPanel({ box: [428, 666, 432, 334], plot: [497, 682, 832, 942], yTitleX: 442, xTitleY: 983, xPad: 11, xTitle: rX, yTitle: ivY },
  { t: hT, lrs: hLrs, hrs: hHrs, c1: '#e8202a', c2: '#1f8a80', yMax: 1, yTicks: retYTicksH,
    notes: [['ON state', 5.388, -3.264], ['OFF state', 5.448, -6.897]],
    leg: [671, 659, 701, 717], names: ['6.7 nm QDs LRS@\u22120.1 V', '6.7 nm QDs HRS@\u22120.1 V'] });
retPanel({ box: [845, 666, 435, 334], plot: [913, 681, 1258, 946], yTitleX: 857, xTitleY: 983, xPad: 8, xTitle: rX, yTitle: ivY },
  { t: iT, lrs: iLrs, hrs: iHrs, c1: '#9b59b0', c2: '#0e3d96', yMax: 1e-1, yTicks: retYTicks,
    notes: [['ON state', 5.388, -3.31], ['OFF state', 5.394, -7.29]],
    leg: [1095, 1086, 699, 714], names: ['5.1 nm QDs LRS@\u22120.1 V', '5.1 nm QDs HRS@\u22120.1 V'] });

const cY = 'Resistance (\u03a9)';
cycPanel({ box: [0, 996, 430, 330], plot: [67, 1015, 422, 1278], yTitleX: 18, xTitleY: 1315, xPad: 6, xTitle: '', yTitle: cY },
  { n: jN, lrs: jLrs, hrs: jHrs, c1: '#e8247a', c2: '#1f4ea0', xMax: 15488, waveX: jWaveX, waveY: jWaveY, waveLabels: jWaveLabels,
    ratio: [2.908, 4.273], span: [2.475, 6.608, 4.615, 3.93, 2.166],
    leg: [258, 251, 1030, 1045], names: ['7.9 nm QDs LRS@\u22120.1 V', '7.9 nm QDs HRS@0.1 V'] });
cycPanel({ box: [428, 996, 432, 330], plot: [498, 1015, 843, 1277], yTitleX: 452, xTitleY: 1315, xPad: 6, xTitle: '', yTitle: cY },
  { n: kN, lrs: kLrs, hrs: kHrs, c1: '#e41f26', c2: '#1f8a85', xMax: 15136, waveX: kWaveX, waveY: kWaveY, waveLabels: kWaveLabels,
    ratio: [2.926, 4.298], span: [2.399, 6.706, 4.7, 3.9, 1.947],
    leg: [680, 672, 1033, 1050], names: ['6.7 nm QDs LRS@\u22120.1 V', '6.7 nm QDs HRS@0.1 V'] });
cycPanel({ box: [848, 996, 432, 330], plot: [921, 1015, 1268, 1277], yTitleX: 875, xTitleY: 1315, xPad: 6, xTitle: '', yTitle: cY },
  { n: lN, lrs: lLrs, hrs: lHrs, c1: '#9b5bb3', c2: '#183c98', xMax: 14454, waveX: lWaveX, waveY: lWaveY, waveLabels: lWaveLabels,
    ratio: [2.88, 4.5], span: [2.388, 6.764, 4.87, 4.13, 2.234],
    leg: [1106, 1097, 1033, 1048], names: ['5.1 nm QDs LRS@\u22120.1 V', '5.1 nm QDs HRS@0.1 V'] });
</script>
</body>
</html>
